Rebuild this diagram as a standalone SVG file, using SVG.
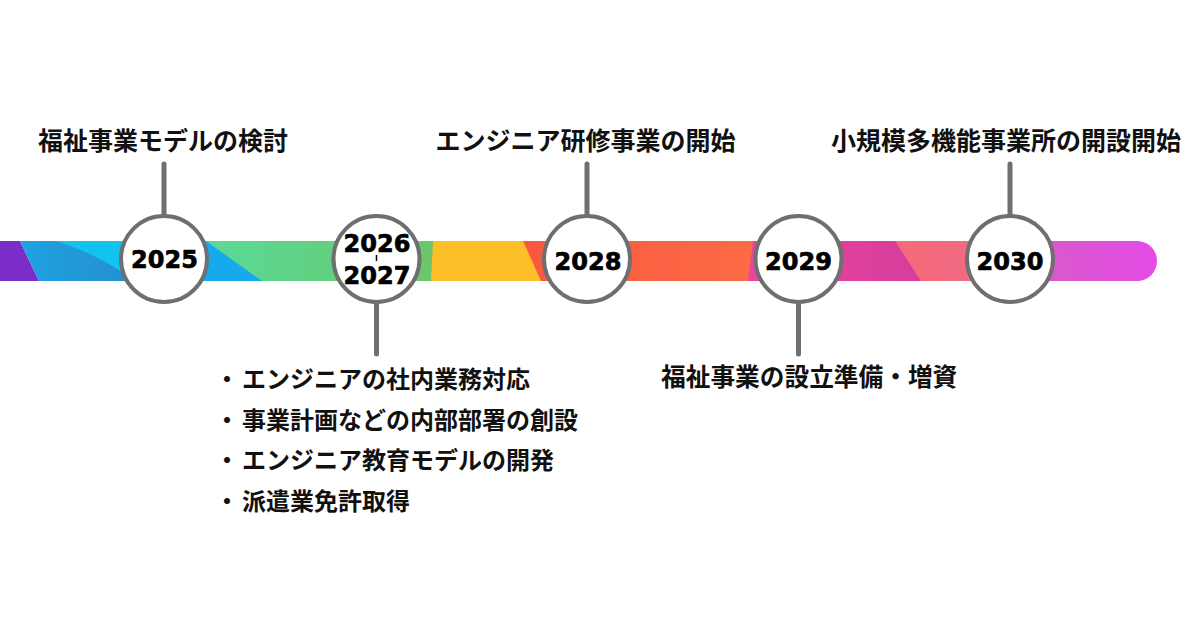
<svg xmlns="http://www.w3.org/2000/svg" width="1200" height="630" viewBox="0 0 1200 630">
<defs>
<style>
.lbl{font-family:"Noto Sans CJK JP","Noto Sans CJK SC",sans-serif;font-weight:700;fill:#111;}
.top{font-size:25px;text-anchor:middle;}
.bul{font-size:24px;}
.yr{font-family:"DejaVu Sans","Liberation Sans",sans-serif;font-weight:700;font-size:24px;fill:#000;stroke:#000;stroke-width:0.7;text-anchor:middle;}
.ring{fill:#fff;stroke:#6f6f6f;stroke-width:4;}
.stem{stroke:#6f6f6f;stroke-width:5;stroke-linecap:round;fill:none;}
</style>
<clipPath id="barclip"><path d="M0,241 H1137 A20,20 0 0 1 1137,281 H0 Z"/></clipPath>
<linearGradient id="gBlue" x1="0" y1="0" x2="1" y2="0"><stop offset="0" stop-color="#1ea2e2"/><stop offset="1" stop-color="#2888c6"/></linearGradient>
<linearGradient id="gGreen" x1="0" y1="0" x2="1" y2="0"><stop offset="0" stop-color="#56dea2"/><stop offset="1" stop-color="#6cc66a"/></linearGradient>
<linearGradient id="gRed" x1="0" y1="0" x2="1" y2="0"><stop offset="0" stop-color="#f8583f"/><stop offset="1" stop-color="#fc6b46"/></linearGradient>
<linearGradient id="gPink" x1="0" y1="0" x2="1" y2="0"><stop offset="0" stop-color="#ea449a"/><stop offset="1" stop-color="#d63d9e"/></linearGradient>
<linearGradient id="gSalmon" x1="0" y1="0" x2="1" y2="0"><stop offset="0" stop-color="#f56b78"/><stop offset="1" stop-color="#f06a88"/></linearGradient>
<linearGradient id="gMag" x1="0" y1="0" x2="1" y2="0"><stop offset="0" stop-color="#d45ec0"/><stop offset="1" stop-color="#e649ea"/></linearGradient>
</defs>
<rect width="1200" height="630" fill="#fff"/>

<g id="bar" clip-path="url(#barclip)">
<polygon points="0,241 20,241 39,281 0,281" fill="#7a2ec7"/>
<polygon points="20,241 170,241 170,281 39,281" fill="url(#gBlue)"/>
<path d="M55,241 Q92,252 122,272 L170,272 L170,241 Z" fill="#12c2ef"/>
<rect x="165" y="241" width="269" height="40" fill="url(#gGreen)"/>
<polygon points="165,241 206,241 262,281 165,281" fill="#16a9ee"/>
<polygon points="433,241 524,241 542,281 431,281" fill="#fdbf27"/>
<polygon points="523,241 754,241 749,281 541,281" fill="url(#gRed)"/>
<polygon points="753,241 896,241 922,281 748,281" fill="url(#gPink)"/>
<polygon points="895,241 1012,241 1012,281 921,281" fill="url(#gSalmon)"/>
<rect x="1010" y="241" width="160" height="40" fill="url(#gMag)"/>
</g>

<g id="connectors">
<line class="stem" x1="164" y1="164" x2="164" y2="214"/>
<line class="stem" x1="376.5" y1="303" x2="376.5" y2="354"/>
<line class="stem" x1="587" y1="164" x2="587" y2="214"/>
<line class="stem" x1="798.5" y1="303" x2="798.5" y2="354"/>
<line class="stem" x1="1010" y1="164" x2="1010" y2="214"/>
</g>

<g id="node-2025">
<circle class="ring" cx="164" cy="259" r="43"/>
<text class="yr" x="164.5" y="268">2025</text>
<text class="lbl top" x="163" y="150">福祉事業モデルの検討</text>
</g>

<g id="node-2026-2027">
<circle class="ring" cx="376.5" cy="259" r="43"/>
<text class="yr" x="377" y="252">2026</text>
<line x1="376.5" y1="255" x2="376.5" y2="261" stroke="#000" stroke-width="1.5"/>
<text class="yr" x="377" y="284">2027</text>
<text class="lbl bul" x="227" y="388" text-anchor="middle">・</text>
<text class="lbl bul" x="242" y="388">エンジニアの社内業務対応</text>
<text class="lbl bul" x="227" y="429" text-anchor="middle">・</text>
<text class="lbl bul" x="242" y="429">事業計画などの内部部署の創設</text>
<text class="lbl bul" x="227" y="469" text-anchor="middle">・</text>
<text class="lbl bul" x="242" y="469">エンジニア教育モデルの開発</text>
<text class="lbl bul" x="227" y="510" text-anchor="middle">・</text>
<text class="lbl bul" x="242" y="510">派遣業免許取得</text>
</g>

<g id="node-2028">
<circle class="ring" cx="587" cy="259" r="43"/>
<text class="yr" x="588" y="270">2028</text>
<text class="lbl top" x="585.5" y="150">エンジニア研修事業の開始</text>
</g>

<g id="node-2029">
<circle class="ring" cx="798.5" cy="259" r="43"/>
<text class="yr" x="798.5" y="270">2029</text>
<text class="lbl bul" x="661" y="386" style="font-size:24.7px">福祉事業の設立準備・増資</text>
</g>

<g id="node-2030">
<circle class="ring" cx="1010" cy="259" r="43"/>
<text class="yr" x="1010" y="270">2030</text>
<text class="lbl top" x="1006" y="150">小規模多機能事業所の開設開始</text>
</g>
</svg>
